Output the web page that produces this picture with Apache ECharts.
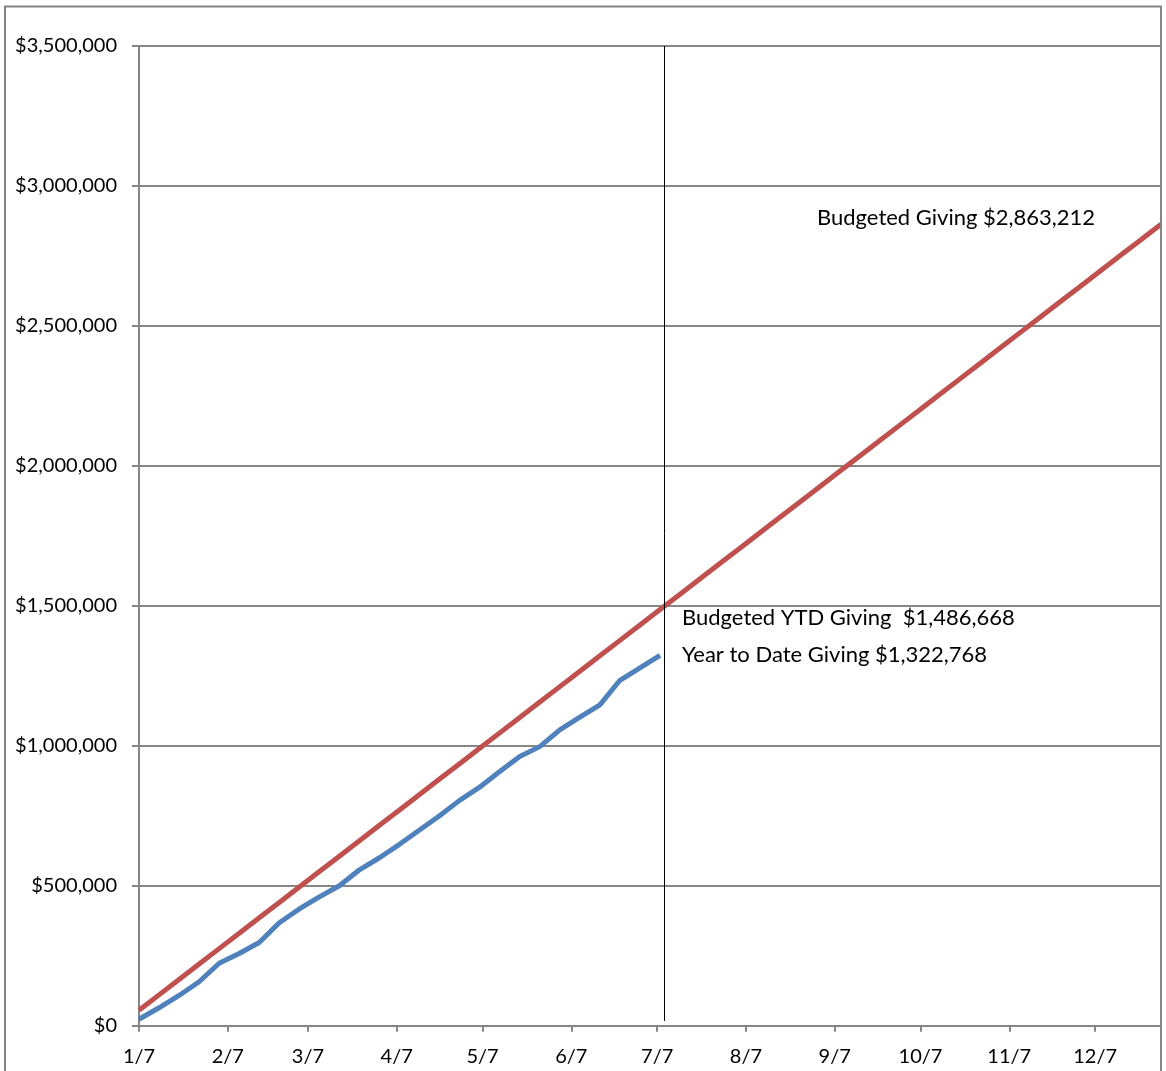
<!DOCTYPE html>
<html><head><meta charset="utf-8">
<script src="https://cdn.jsdelivr.net/npm/echarts@6/dist/echarts.min.js"></script>
<style>html,body{margin:0;padding:0;background:#fff}#c{width:1166px;height:1071px}</style>
</head><body><div id="c"></div>
<script>
// Days since 1/7 of each weekly data point
const weekDays = [0,7,14,21,28,35,42,49,56,63,70,77,84,91,98,105,112,119,126,133,140,147,154,161,168,175,182,
  189,196,203,210,217,224,231,238,245,252,259,266,273,280,287,294,301,308,315,322,329,336,343,350,357];
// Budgeted cumulative giving (weekly)
const budgetValues = [55062,110124,165185,220247,275309,330371,385432,440494,495556,550618,605679,660741,
  715803,770865,825927,880988,936050,991112,1046174,1101235,1156297,1211359,1266421,1321482,1376544,1431606,
  1486668,1541730,1596791,1651853,1706915,1761977,1817038,1872100,1927162,1982224,2037285,2092347,2147409,
  2202471,2257532,2312594,2367656,2422718,2477779,2532841,2587903,2642965,2698026,2753088,2808150,2863212];
const actualValues = [23000,64000,108000,157000,223000,258000,297000,368000,417000,460000,500000,557000,
  600000,648000,699000,750000,805000,852000,908000,962000,997000,1057000,1102000,1146000,1234000,1278000,1322768];
const tickDays = [0,31,59,90,120,151,181,212,243,273,304,334];
const tickLabels = ['1/7','2/7','3/7','4/7','5/7','6/7','7/7','8/7','9/7','10/7','11/7','12/7'];
const markerDay = 183.6;
const markerBottom = 17000;

const fmt = n => '$' + Math.round(n).toLocaleString('en-US');
const FONT = 'Lato';
const GRAY = '#868686';
const NOTE_FONT = '22px ' + FONT;

const chart = echarts.init(document.getElementById('c'));
chart.setOption({
  animation: false,
  backgroundColor: '#fff',
  grid: { left: 139, right: 5, top: 46, bottom: 45.3 },
  xAxis: {
    type: 'value', min: 0, max: weekDays[weekDays.length - 1],
    axisLine: { show: true, lineStyle: { color: GRAY, width: 2 } },
    axisTick: { show: true, length: 6, lineStyle: { color: GRAY, width: 2 }, customValues: tickDays },
    axisLabel: {
      customValues: tickDays, margin: 21, color: '#000', fontFamily: FONT, fontSize: 20,
      formatter: v => tickLabels[tickDays.indexOf(v)]
    },
    splitLine: { show: false }
  },
  yAxis: {
    type: 'value', min: 0, max: 3500000, interval: 500000,
    axisLine: { show: true, lineStyle: { color: GRAY, width: 2 } },
    axisTick: { show: true, length: 7, lineStyle: { color: GRAY, width: 2 } },
    axisLabel: { margin: 22, color: '#000', fontFamily: FONT, fontSize: 20, formatter: v => fmt(v) },
    splitLine: { show: true, lineStyle: { color: GRAY, width: 2 } }
  },
  series: [
    {
      name: 'Year to Date Giving', type: 'line', showSymbol: false, symbol: 'none',
      data: actualValues.map((v, i) => [weekDays[i], v]),
      lineStyle: { color: '#4F81BD', width: 5 },
      markLine: {
        silent: true, symbol: 'none', label: { show: false },
        lineStyle: { color: '#000', width: 1, type: 'solid' },
        data: [[{ coord: [markerDay, 3500000] }, { coord: [markerDay, markerBottom] }]]
      }
    },
    {
      name: 'Budgeted Giving', type: 'line', showSymbol: false, symbol: 'none',
      data: budgetValues.map((v, i) => [weekDays[i], v]),
      lineStyle: { color: '#C0504D', width: 5 }
    }
  ],
  graphic: [
    { type: 'rect', shape: { x: 5, y: 6.5, width: 1156, height: 1200 },
      style: { fill: 'none', stroke: GRAY, lineWidth: 2 }, z: 10 },
    { type: 'text', x: 817, y: 218, style: { text: 'Budgeted Giving ' + fmt(budgetValues[budgetValues.length - 1]),
      font: NOTE_FONT, fill: '#000', verticalAlign: 'middle' } },
    { type: 'text', x: 682, y: 618, style: { text: 'Budgeted YTD Giving  ' + fmt(budgetValues[actualValues.length - 1]),
      font: NOTE_FONT, fill: '#000', verticalAlign: 'middle' } },
    { type: 'text', x: 682, y: 655, style: { text: 'Year to Date Giving ' + fmt(actualValues[actualValues.length - 1]),
      font: NOTE_FONT, fill: '#000', verticalAlign: 'middle' } }
  ]
});
</script></body></html>
